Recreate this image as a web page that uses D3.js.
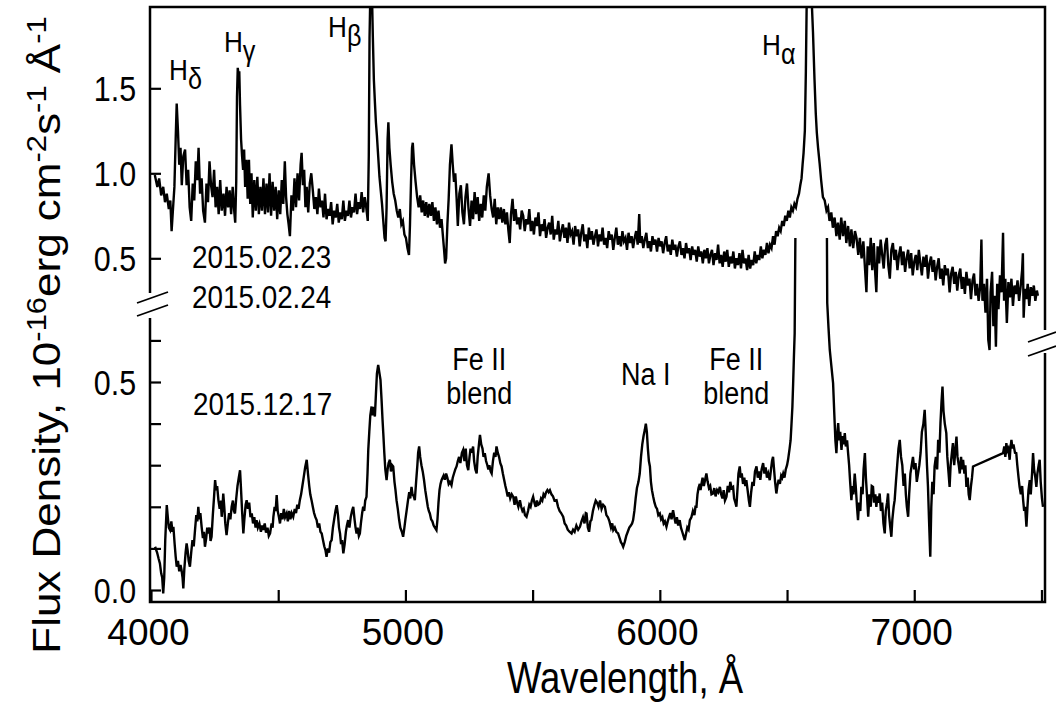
<!DOCTYPE html>
<html><head><meta charset="utf-8">
<script src="https://cdn.jsdelivr.net/npm/d3@7"></script>
<style>
body{margin:0;background:#fff}
svg text{font-family:"Liberation Sans",Arial,sans-serif;fill:#000}
</style>
</head><body>
<svg id="chart" width="1056" height="705"></svg>
<script>
// ---------------- data ----------------
const xTicks = [4000,4500,5000,5500,6000,6500,7000,7500];
const xTickLabels = ["4000","","5000","","6000","","7000",""];
const upperTicks = [0.5,1.0,1.5];
const upperTickLabels = ["0.5","1.0","1.5"];
const lowerTicks = [0,0.1,0.2,0.3,0.4,0.5,0.6];
const lowerTickLabels = ["0.0","","","","","0.5",""];

// 2015.02.23 / 2015.02.24 spectrum  [wavelength A, flux]
const spectrumFeb = [
[4015,0.99],[4025,0.92],[4032,0.97],[4040,0.87],[4048,0.92],[4055,0.83],[4062,0.88],[4070,0.79],[4076,0.84],[4081,0.66],
[4086,0.78],[4092,0.92],[4097,1.20],[4101,1.41],[4106,1.25],[4111,1.05],[4116,1.15],[4121,0.93],[4127,1.10],[4134,1.14],
[4140,0.93],[4146,1.02],[4152,0.80],[4158,0.72],[4164,0.94],[4170,0.84],[4176,1.07],[4182,0.96],[4187,1.15],[4193,0.88],
[4199,0.97],[4205,0.78],[4212,0.71],[4218,0.94],[4224,0.83],[4230,1.07],[4236,0.93],[4242,0.86],[4248,1.02],[4254,0.80],
[4260,0.92],[4266,0.76],[4272,0.96],[4278,0.78],[4285,0.88],[4291,0.75],[4297,0.92],[4303,0.80],[4309,0.90],[4315,0.76],
[4321,0.92],[4327,0.78],[4331,0.71],[4335,0.95],[4338,1.45],[4341,1.62],[4344,1.58],[4347,1.60],[4350,1.40],[4354,1.20],
[4358,1.10],[4362,1.02],[4366,1.14],[4370,0.92],[4375,1.08],[4380,0.85],[4385,1.08],[4390,0.82],[4395,1.00],[4400,0.74],
[4406,0.96],[4412,0.78],[4418,0.98],[4424,0.76],[4430,0.92],[4436,0.78],[4442,0.97],[4448,0.76],[4454,0.94],[4460,0.77],
[4466,1.00],[4472,0.75],[4478,0.95],[4484,0.78],[4490,0.92],[4496,0.73],[4502,0.90],[4508,0.76],[4514,0.96],[4520,0.82],
[4526,1.07],[4531,0.86],[4536,0.76],[4541,0.70],[4546,0.63],[4552,0.87],[4558,0.78],[4564,0.97],[4570,0.80],[4576,1.00],
[4582,0.84],[4588,1.05],[4592,1.12],[4597,0.93],[4602,1.02],[4607,0.80],[4612,0.92],[4618,0.77],[4624,0.94],[4630,1.00],
[4636,0.90],[4642,0.79],[4648,0.86],[4654,0.76],[4660,0.91],[4666,0.80],[4672,0.84],[4678,0.74],[4684,0.88],[4690,0.73],
[4696,0.79],[4702,0.75],[4708,0.83],[4714,0.70],[4720,0.78],[4726,0.74],[4732,0.82],[4738,0.71],[4744,0.77],[4750,0.73],
[4756,0.84],[4762,0.72],[4768,0.78],[4774,0.75],[4780,0.84],[4786,0.74],[4792,0.80],[4798,0.77],[4804,0.88],[4810,0.76],
[4816,0.83],[4822,0.79],[4828,0.89],[4834,0.77],[4840,0.86],[4846,0.80],[4852,0.72],[4856,1.10],[4859,1.80],[4862,2.05],
[4866,2.10],[4869,2.02],[4872,1.80],[4876,1.55],[4880,1.42],[4884,1.30],[4888,1.22],[4893,1.10],[4898,0.98],[4903,0.90],
[4908,0.82],[4913,0.72],[4918,0.62],[4922,0.60],[4926,0.80],[4930,1.20],[4933,1.30],[4937,1.15],[4942,1.05],[4948,0.95],
[4954,0.88],[4960,0.84],[4966,0.78],[4972,0.74],[4978,0.79],[4984,0.70],[4990,0.72],[4996,0.64],[5002,0.62],[5008,0.56],
[5014,0.52],[5018,0.70],[5022,0.95],[5026,1.15],[5029,1.18],[5034,1.05],[5040,0.95],[5046,0.86],[5052,0.80],[5058,0.87],
[5064,0.77],[5070,0.84],[5076,0.75],[5082,0.83],[5088,0.74],[5094,0.82],[5100,0.75],[5106,0.83],[5112,0.72],[5118,0.80],
[5124,0.70],[5130,0.78],[5136,0.68],[5142,0.73],[5148,0.62],[5152,0.55],[5156,0.47],[5160,0.50],[5165,0.70],[5170,0.85],
[5175,1.05],[5181,1.17],[5186,1.05],[5191,0.95],[5196,1.00],[5201,0.86],[5206,0.69],[5212,0.88],[5218,0.93],[5224,0.77],
[5230,0.70],[5236,0.86],[5242,0.94],[5248,0.79],[5254,0.69],[5260,0.84],[5266,0.73],[5272,0.89],[5278,0.76],[5284,0.86],
[5290,0.72],[5296,0.82],[5302,0.74],[5308,0.87],[5314,0.78],[5320,0.92],[5327,1.00],[5333,0.87],[5339,0.79],[5345,0.74],
[5351,0.85],[5357,0.70],[5363,0.80],[5369,0.73],[5375,0.80],[5381,0.71],[5387,0.79],[5393,0.70],[5399,0.77],[5405,0.66],
[5410,0.59],[5415,0.76],[5421,0.85],[5427,0.72],[5433,0.79],[5439,0.70],[5445,0.74],[5451,0.67],[5457,0.78],[5463,0.75],
[5469,0.66],[5475,0.73],[5481,0.70],[5487,0.79],[5493,0.66],[5499,0.72],[5505,0.64],[5511,0.74],[5517,0.69],[5523,0.77],
[5529,0.63],[5535,0.70],[5541,0.66],[5547,0.73],[5553,0.62],[5559,0.68],[5565,0.71],[5571,0.64],[5577,0.75],[5583,0.61],
[5589,0.67],[5595,0.64],[5601,0.72],[5607,0.60],[5613,0.66],[5619,0.70],[5625,0.62],[5631,0.68],[5637,0.59],[5643,0.71],
[5649,0.64],[5655,0.66],[5661,0.58],[5667,0.69],[5673,0.63],[5679,0.67],[5685,0.57],[5691,0.65],[5697,0.70],[5703,0.60],
[5709,0.64],[5715,0.56],[5721,0.68],[5727,0.61],[5733,0.66],[5739,0.58],[5745,0.63],[5751,0.67],[5757,0.57],[5763,0.64],
[5769,0.60],[5775,0.68],[5781,0.58],[5787,0.62],[5793,0.56],[5799,0.66],[5805,0.61],[5811,0.64],[5817,0.55],[5823,0.62],
[5829,0.68],[5835,0.58],[5841,0.63],[5847,0.57],[5853,0.66],[5859,0.60],[5865,0.62],[5871,0.55],[5877,0.65],[5883,0.59],
[5889,0.63],[5895,0.56],[5901,0.62],[5907,0.66],[5913,0.58],[5919,0.76],[5923,0.59],[5929,0.63],[5935,0.56],[5941,0.61],
[5947,0.65],[5953,0.56],[5959,0.60],[5965,0.54],[5971,0.63],[5977,0.58],[5983,0.61],[5989,0.54],[5995,0.62],[6001,0.57],
[6007,0.60],[6013,0.53],[6019,0.59],[6025,0.63],[6031,0.54],[6037,0.58],[6043,0.52],[6049,0.61],[6055,0.55],[6061,0.58],
[6067,0.51],[6073,0.57],[6079,0.60],[6085,0.52],[6091,0.56],[6097,0.50],[6103,0.59],[6109,0.53],[6115,0.56],[6121,0.49],
[6127,0.57],[6133,0.52],[6139,0.55],[6145,0.48],[6151,0.57],[6157,0.51],[6163,0.54],[6169,0.47],[6175,0.55],[6181,0.50],
[6187,0.56],[6193,0.47],[6199,0.52],[6205,0.55],[6211,0.46],[6217,0.53],[6223,0.49],[6229,0.58],[6235,0.47],[6241,0.52],
[6247,0.45],[6253,0.54],[6259,0.48],[6265,0.55],[6271,0.45],[6277,0.51],[6283,0.47],[6289,0.54],[6295,0.44],[6301,0.50],
[6307,0.46],[6313,0.53],[6319,0.44],[6325,0.55],[6331,0.47],[6337,0.50],[6343,0.43],[6349,0.52],[6355,0.44],[6361,0.49],
[6367,0.46],[6373,0.54],[6379,0.47],[6385,0.52],[6391,0.49],[6397,0.57],[6403,0.50],[6409,0.55],[6415,0.52],[6421,0.59],
[6427,0.53],[6433,0.58],[6439,0.56],[6445,0.63],[6451,0.58],[6457,0.66],[6463,0.63],[6469,0.68],[6475,0.66],[6481,0.72],
[6487,0.69],[6493,0.75],[6499,0.72],[6505,0.78],[6511,0.74],[6517,0.80],[6523,0.78],[6529,0.82],[6535,0.80],[6541,0.85],
[6547,0.88],[6552,0.93],[6557,0.97],[6561,1.05],[6565,1.12],[6570,1.25],[6574,1.60],[6578,2.10],[6590,2.20],[6596,2.05],
[6602,1.83],[6608,1.55],[6613,1.35],[6617,1.24],[6622,1.15],[6628,1.06],[6634,0.96],[6641,0.86],[6648,0.84],[6655,0.78],
[6661,0.80],[6667,0.72],[6674,0.77],[6680,0.68],[6687,0.74],[6694,0.63],[6700,0.71],[6707,0.61],[6713,0.74],[6720,0.63],
[6727,0.72],[6733,0.59],[6740,0.69],[6747,0.57],[6753,0.67],[6760,0.56],[6767,0.66],[6773,0.62],[6780,0.52],[6786,0.62],
[6793,0.50],[6800,0.60],[6806,0.45],[6812,0.30],[6817,0.57],[6823,0.46],[6829,0.62],[6835,0.43],[6841,0.59],[6847,0.40],
[6851,0.30],[6856,0.57],[6862,0.47],[6868,0.61],[6874,0.52],[6880,0.44],[6886,0.58],[6892,0.62],[6898,0.46],[6904,0.38],
[6910,0.55],[6916,0.59],[6922,0.49],[6928,0.55],[6934,0.43],[6940,0.52],[6946,0.57],[6952,0.46],[6958,0.54],[6964,0.42],
[6970,0.50],[6976,0.55],[6982,0.44],[6988,0.53],[6994,0.40],[7000,0.48],[7006,0.52],[7012,0.43],[7018,0.55],[7024,0.47],
[7030,0.40],[7036,0.51],[7042,0.45],[7048,0.52],[7054,0.38],[7060,0.47],[7066,0.51],[7072,0.42],[7078,0.49],[7084,0.37],
[7090,0.45],[7096,0.50],[7102,0.38],[7108,0.44],[7114,0.34],[7120,0.46],[7126,0.40],[7132,0.44],[7139,0.30],[7145,0.41],
[7151,0.45],[7157,0.35],[7163,0.42],[7169,0.31],[7175,0.40],[7181,0.44],[7187,0.32],[7193,0.39],[7199,0.29],[7205,0.42],
[7211,0.34],[7217,0.38],[7223,0.26],[7229,0.37],[7235,0.41],[7241,0.28],[7247,0.35],[7253,0.25],[7259,0.33],[7264,0.61],
[7268,0.25],[7274,0.35],[7280,0.18],[7286,0.38],[7291,0.02],[7296,-0.04],[7300,0.30],[7306,0.42],[7311,0.10],[7316,0.28],
[7321,-0.02],[7326,0.35],[7331,0.20],[7337,0.40],[7343,0.30],[7349,0.65],[7353,0.25],[7358,0.38],[7364,0.12],[7370,0.36],
[7376,0.27],[7382,0.38],[7388,0.22],[7394,0.34],[7400,0.29],[7406,0.37],[7412,0.25],[7418,0.33],[7424,0.43],[7427,0.53],
[7430,0.15],[7435,0.32],[7440,0.26],[7446,0.35],[7452,0.22],[7458,0.33],[7464,0.28],[7470,0.34],[7476,0.25],[7482,0.31],
[7486,0.28]
];

// 2015.12.17 spectrum  [wavelength A, flux]
const spectrumDec = [
[4016,0.104],[4024,0.090],[4030,0.075],[4035,0.064],[4040,0.040],[4044,0.030],[4048,-0.008],[4052,0.030],[4056,0.120],[4062,0.204],
[4066,0.175],[4070,0.150],[4075,0.144],[4080,0.165],[4084,0.140],[4088,0.152],[4093,0.110],[4097,0.080],[4101,0.056],[4106,0.070],
[4111,0.045],[4116,0.060],[4120,0.048],[4124,0.030],[4127,0.004],[4131,0.050],[4136,0.090],[4140,0.112],[4144,0.095],[4148,0.070],
[4153,0.056],[4158,0.090],[4163,0.120],[4168,0.105],[4173,0.144],[4178,0.180],[4182,0.165],[4186,0.200],[4190,0.170],[4194,0.185],
[4199,0.152],[4204,0.125],[4208,0.140],[4212,0.104],[4217,0.125],[4221,0.150],[4225,0.136],[4230,0.150],[4234,0.118],[4238,0.128],
[4243,0.180],[4248,0.225],[4252,0.264],[4256,0.240],[4260,0.250],[4265,0.216],[4270,0.195],[4274,0.215],[4278,0.176],[4281,0.200],
[4284,0.232],[4288,0.200],[4292,0.160],[4297,0.132],[4302,0.160],[4307,0.185],[4312,0.170],[4317,0.200],[4322,0.215],[4326,0.190],
[4330,0.184],[4335,0.220],[4340,0.250],[4345,0.270],[4350,0.288],[4354,0.240],[4358,0.190],[4363,0.136],[4367,0.170],[4372,0.205],
[4376,0.216],[4381,0.195],[4386,0.210],[4391,0.175],[4396,0.184],[4401,0.160],[4406,0.175],[4411,0.150],[4415,0.168],[4420,0.150],
[4426,0.160],[4432,0.140],[4437,0.155],[4441,0.144],[4447,0.160],[4452,0.138],[4458,0.150],[4463,0.130],[4468,0.136],[4474,0.160],
[4478,0.150],[4481,0.176],[4486,0.200],[4490,0.190],[4494,0.228],[4498,0.190],[4503,0.175],[4507,0.160],[4512,0.185],[4517,0.170],
[4522,0.195],[4527,0.175],[4533,0.184],[4538,0.165],[4543,0.190],[4548,0.170],[4553,0.185],[4559,0.176],[4565,0.195],[4570,0.185],
[4575,0.205],[4580,0.195],[4585,0.216],[4590,0.230],[4595,0.250],[4600,0.270],[4606,0.295],[4612,0.313],[4617,0.280],[4622,0.250],
[4626,0.230],[4631,0.216],[4636,0.200],[4641,0.185],[4646,0.175],[4651,0.168],[4656,0.150],[4661,0.160],[4666,0.140],[4671,0.136],
[4676,0.120],[4681,0.105],[4686,0.095],[4690,0.080],[4695,0.100],[4700,0.090],[4705,0.115],[4710,0.120],[4715,0.150],[4720,0.170],
[4725,0.190],[4730,0.204],[4735,0.180],[4739,0.150],[4743,0.136],[4747,0.110],[4751,0.120],[4756,0.088],[4761,0.110],[4766,0.140],
[4770,0.155],[4775,0.168],[4780,0.150],[4785,0.175],[4790,0.190],[4795,0.200],[4800,0.170],[4804,0.150],[4808,0.136],[4812,0.150],
[4817,0.130],[4821,0.136],[4825,0.160],[4830,0.185],[4834,0.200],[4838,0.190],[4842,0.215],[4847,0.224],[4851,0.280],[4854,0.337],
[4858,0.380],[4862,0.420],[4867,0.441],[4871,0.420],[4875,0.440],[4880,0.417],[4884,0.470],[4888,0.520],[4893,0.541],[4897,0.525],
[4902,0.505],[4906,0.460],[4910,0.410],[4913,0.377],[4917,0.330],[4921,0.290],[4926,0.264],[4930,0.290],[4934,0.305],[4939,0.313],
[4943,0.285],[4948,0.300],[4952,0.297],[4957,0.260],[4961,0.240],[4965,0.216],[4970,0.195],[4975,0.170],[4980,0.150],[4986,0.140],
[4991,0.128],[4996,0.150],[5000,0.170],[5005,0.192],[5010,0.215],[5015,0.235],[5019,0.220],[5024,0.248],[5028,0.230],[5033,0.225],
[5037,0.216],[5042,0.260],[5047,0.300],[5050,0.330],[5054,0.345],[5058,0.320],[5063,0.300],[5068,0.285],[5073,0.265],[5078,0.240],
[5083,0.220],[5088,0.200],[5092,0.190],[5096,0.184],[5101,0.170],[5106,0.165],[5111,0.155],[5116,0.150],[5122,0.144],[5126,0.170],
[5130,0.210],[5134,0.240],[5138,0.255],[5142,0.264],[5146,0.270],[5150,0.275],[5155,0.265],[5160,0.280],[5165,0.270],[5170,0.255],
[5175,0.260],[5181,0.252],[5186,0.270],[5191,0.280],[5196,0.290],[5201,0.297],[5206,0.310],[5211,0.320],[5216,0.305],[5222,0.330],
[5227,0.337],[5232,0.310],[5237,0.340],[5242,0.300],[5247,0.288],[5252,0.320],[5256,0.340],[5261,0.330],[5266,0.345],[5270,0.310],
[5275,0.290],[5280,0.280],[5284,0.320],[5289,0.350],[5293,0.373],[5298,0.350],[5303,0.340],[5307,0.320],[5312,0.329],[5317,0.310],
[5322,0.300],[5326,0.290],[5330,0.300],[5335,0.285],[5339,0.280],[5344,0.310],[5349,0.330],[5354,0.320],[5358,0.345],[5363,0.330],
[5368,0.320],[5373,0.305],[5378,0.297],[5383,0.280],[5388,0.265],[5393,0.250],[5397,0.240],[5402,0.225],[5407,0.235],[5412,0.220],
[5418,0.230],[5424,0.224],[5429,0.205],[5434,0.225],[5439,0.210],[5444,0.200],[5450,0.216],[5455,0.200],[5460,0.190],[5465,0.195],
[5470,0.180],[5476,0.176],[5482,0.190],[5487,0.205],[5492,0.200],[5497,0.215],[5502,0.224],[5507,0.210],[5512,0.200],[5517,0.215],
[5522,0.205],[5528,0.208],[5533,0.220],[5538,0.215],[5543,0.230],[5548,0.225],[5553,0.235],[5558,0.240],[5563,0.235],[5568,0.240],
[5574,0.230],[5580,0.225],[5586,0.215],[5594,0.216],[5600,0.200],[5606,0.190],[5612,0.185],[5620,0.176],[5626,0.160],[5632,0.155],
[5638,0.145],[5645,0.140],[5653,0.136],[5659,0.145],[5665,0.140],[5672,0.155],[5679,0.145],[5686,0.152],[5692,0.165],[5698,0.175],
[5704,0.160],[5709,0.185],[5712,0.184],[5717,0.150],[5722,0.140],[5727,0.165],[5731,0.168],[5737,0.190],[5743,0.205],[5748,0.215],
[5753,0.210],[5759,0.200],[5765,0.215],[5771,0.195],[5777,0.205],[5784,0.200],[5790,0.180],[5796,0.175],[5802,0.165],[5808,0.150],
[5813,0.160],[5817,0.144],[5823,0.150],[5829,0.140],[5836,0.136],[5842,0.125],[5847,0.115],[5852,0.110],[5856,0.104],[5862,0.115],
[5868,0.130],[5874,0.140],[5880,0.150],[5886,0.155],[5891,0.160],[5895,0.168],[5900,0.190],[5905,0.220],[5910,0.245],[5916,0.260],
[5921,0.280],[5926,0.320],[5931,0.350],[5936,0.370],[5941,0.385],[5945,0.400],[5949,0.380],[5953,0.340],[5957,0.310],[5961,0.297],
[5965,0.260],[5969,0.240],[5974,0.224],[5979,0.210],[5984,0.200],[5989,0.195],[5994,0.180],[6000,0.184],[6005,0.170],[6010,0.175],
[6015,0.160],[6020,0.165],[6026,0.152],[6031,0.165],[6036,0.175],[6041,0.185],[6046,0.170],[6052,0.192],[6057,0.175],[6062,0.160],
[6067,0.175],[6072,0.155],[6078,0.168],[6083,0.150],[6088,0.140],[6093,0.130],[6098,0.120],[6103,0.135],[6108,0.150],[6113,0.145],
[6118,0.168],[6124,0.175],[6130,0.190],[6136,0.180],[6140,0.200],[6144,0.200],[6148,0.230],[6152,0.245],[6157,0.255],[6160,0.240],
[6164,0.256],[6168,0.270],[6173,0.250],[6178,0.265],[6183,0.280],[6188,0.260],[6193,0.245],[6198,0.250],[6203,0.230],[6209,0.232],
[6214,0.245],[6219,0.225],[6225,0.240],[6230,0.235],[6236,0.248],[6241,0.230],[6246,0.220],[6251,0.240],[6256,0.215],[6262,0.224],
[6267,0.250],[6272,0.235],[6277,0.260],[6282,0.245],[6288,0.248],[6292,0.220],[6297,0.210],[6301,0.200],[6305,0.240],[6309,0.280],
[6314,0.297],[6318,0.270],[6322,0.280],[6327,0.255],[6332,0.270],[6336,0.250],[6340,0.264],[6345,0.240],[6350,0.215],[6354,0.200],
[6359,0.235],[6364,0.260],[6369,0.250],[6374,0.285],[6380,0.297],[6385,0.270],[6390,0.285],[6395,0.265],[6400,0.290],[6406,0.305],
[6411,0.280],[6416,0.295],[6421,0.270],[6426,0.280],[6432,0.264],[6437,0.290],[6441,0.310],[6445,0.320],[6449,0.290],[6453,0.260],
[6458,0.232],[6462,0.250],[6467,0.265],[6472,0.255],[6477,0.275],[6481,0.270],[6485,0.280],[6490,0.270],[6495,0.290],[6500,0.300],
[6504,0.313],[6510,0.340],[6514,0.360],[6517,0.393],[6521,0.440],[6524,0.497],[6527,0.560],[6530,0.617],[6534,0.950],[6560,1.400],
[6600,1.700],[6640,1.400],[6656,0.950],[6658,0.690],[6663,0.630],[6668,0.577],[6674,0.540],[6681,0.497],[6686,0.420],[6690,0.360],
[6694,0.329],[6698,0.380],[6701,0.401],[6705,0.360],[6709,0.380],[6714,0.337],[6718,0.370],[6722,0.350],[6727,0.377],[6731,0.345],
[6736,0.360],[6740,0.329],[6744,0.300],[6748,0.260],[6753,0.216],[6757,0.250],[6761,0.230],[6766,0.280],[6770,0.250],[6775,0.200],
[6779,0.168],[6783,0.210],[6788,0.190],[6792,0.248],[6797,0.230],[6801,0.290],[6806,0.329],[6810,0.270],[6815,0.220],[6819,0.176],
[6824,0.230],[6829,0.200],[6833,0.250],[6838,0.248],[6842,0.210],[6847,0.230],[6851,0.200],[6855,0.225],[6860,0.210],[6864,0.232],
[6869,0.190],[6874,0.210],[6879,0.160],[6884,0.136],[6888,0.190],[6893,0.210],[6897,0.232],[6901,0.180],[6906,0.150],[6910,0.128],
[6914,0.170],[6919,0.200],[6923,0.216],[6928,0.260],[6933,0.300],[6938,0.340],[6943,0.361],[6948,0.320],[6953,0.300],[6958,0.250],
[6963,0.280],[6967,0.230],[6971,0.200],[6976,0.176],[6980,0.230],[6985,0.280],[6990,0.300],[6995,0.320],[7000,0.290],[7005,0.305],
[7010,0.260],[7015,0.280],[7020,0.300],[7025,0.330],[7030,0.380],[7036,0.400],[7041,0.433],[7045,0.380],[7050,0.300],[7054,0.248],
[7058,0.170],[7063,0.080],[7067,0.200],[7071,0.260],[7076,0.230],[7080,0.297],[7085,0.320],[7090,0.290],[7094,0.361],[7099,0.330],
[7103,0.400],[7107,0.450],[7111,0.489],[7115,0.430],[7120,0.400],[7126,0.377],[7130,0.320],[7135,0.280],[7139,0.248],[7143,0.300],
[7148,0.330],[7152,0.353],[7157,0.300],[7162,0.340],[7166,0.369],[7170,0.320],[7175,0.300],[7179,0.280],[7184,0.320],[7188,0.290],
[7192,0.313],[7197,0.280],[7201,0.300],[7205,0.248],[7210,0.270],[7214,0.230],[7218,0.216],[7223,0.250],[7227,0.270],[7231,0.297],
[7349,0.329],[7354,0.345],[7358,0.320],[7362,0.353],[7366,0.335],[7370,0.340],[7375,0.313],[7378,0.340],[7382,0.361],[7386,0.340],
[7390,0.350],[7396,0.330],[7401,0.329],[7405,0.300],[7410,0.270],[7414,0.248],[7419,0.230],[7424,0.250],[7428,0.216],[7432,0.190],
[7436,0.200],[7441,0.152],[7445,0.200],[7449,0.240],[7454,0.264],[7458,0.230],[7463,0.280],[7467,0.329],[7471,0.290],[7476,0.270],
[7480,0.248],[7484,0.280],[7489,0.300],[7493,0.313],[7497,0.260],[7502,0.220],[7506,0.200]
];

const lineLabels = [
  {base:"H", greek:"δ", lambda:4071, y:80},
  {base:"H", greek:"γ", lambda:4287, y:52},
  {base:"H", greek:"β", lambda:4696, y:37},
  {base:"H", greek:"α", lambda:6402, y:55}
];
const dateLabels = ["2015.02.23","2015.02.24","2015.12.17"];
const featureLabels = [
  {lines:["Fe II","blend"], lambda:5290},
  {lines:["Na I"], lambda:5945},
  {lines:["Fe II","blend"], lambda:6300}
];

// ---------------- layout ----------------
const L = 150, R = 1045, T = 7, B = 602;
const SX = 0.87; // horizontal squeeze of the original lettering

const svg = d3.select("#chart");
svg.append("rect").attr("width",1056).attr("height",705).attr("fill","#fff");

const x = d3.scaleLinear().domain([4000, 7510]).range([151, 1044]);
const yU = d3.scaleLinear().domain([0.5, 1.5]).range([258.3, 88.3]);
const yL = d3.scaleLinear().domain([0, 0.5]).range([590, 382]);

const defs = svg.append("defs");
defs.append("clipPath").attr("id","clipU").append("rect")
  .attr("x",L).attr("y",T).attr("width",R-L).attr("height",B-T);
defs.append("clipPath").attr("id","clipL").append("rect")
  .attr("x",L).attr("y",238).attr("width",R-L).attr("height",B-238);

function txt(g, px, py, str, size, anchor, sx){
  return g.append("text")
    .attr("transform",`translate(${px},${py}) scale(${sx||SX},1)`)
    .attr("text-anchor",anchor||"start")
    .attr("font-size",size)
    .text(str);
}

// spectra
const lineU = d3.line().x(d=>x(d[0])).y(d=>yU(d[1]));
const lineL = d3.line().x(d=>x(d[0])).y(d=>yL(d[1]));
svg.append("path").datum(spectrumFeb).attr("d",lineU)
  .attr("fill","none").attr("stroke","#000").attr("stroke-width",2.4)
  .attr("clip-path","url(#clipU)");
svg.append("path").datum(spectrumDec).attr("d",lineL)
  .attr("fill","none").attr("stroke","#000").attr("stroke-width",2.4)
  .attr("clip-path","url(#clipL)");

// frame with axis breaks
const frame = svg.append("g").attr("stroke","#000").attr("stroke-width",2.5).attr("fill","none");
frame.append("path").attr("d",`M${L},293 L${L},${T} L${R},${T} L${R},330`);
frame.append("path").attr("d",`M${L},318 L${L},${B} L${R},${B} L${R},353`);
const brk = svg.append("g").attr("stroke","#000").attr("stroke-width",1.8);
brk.append("line").attr("x1",137).attr("y1",303).attr("x2",168).attr("y2",292);
brk.append("line").attr("x1",137).attr("y1",316).attr("x2",168).attr("y2",305);
brk.append("line").attr("x1",1028).attr("y1",342).attr("x2",1056).attr("y2",332);
brk.append("line").attr("x1",1028).attr("y1",356).attr("x2",1056).attr("y2",346);

// axes
function styleAxis(g, size){
  g.select(".domain").remove();
  g.selectAll(".tick line").attr("stroke","#000").attr("stroke-width",2.2);
  g.selectAll(".tick text").attr("font-size",size).attr("fill","#000")
    .attr("font-family","'Liberation Sans',Arial,sans-serif");
}
const axU = svg.append("g").attr("transform",`translate(${L},0)`)
  .call(d3.axisLeft(yU).tickValues(upperTicks).tickSize(-11).tickPadding(16)
    .tickFormat((d,i)=>upperTickLabels[i]));
styleAxis(axU, 35);
axU.selectAll(".tick text").attr("transform",`scale(${SX},1)`).attr("dy","0.36em");

const axL = svg.append("g").attr("transform",`translate(${L},0)`)
  .call(d3.axisLeft(yL).tickValues(lowerTicks).tickSize(-11).tickPadding(16)
    .tickFormat((d,i)=>lowerTickLabels[i]));
styleAxis(axL, 35);
axL.selectAll(".tick text").attr("transform",`scale(${SX},1)`).attr("dy","0.36em");

const axX = svg.append("g").attr("transform",`translate(0,${B})`)
  .call(d3.axisBottom(x).tickValues(xTicks).tickSize(-12).tickPadding(17)
    .tickFormat((d,i)=>xTickLabels[i]));
styleAxis(axX, 37);
axX.selectAll(".tick text").attr("dx",-3);

// axis titles
txt(svg, 625, 693, "Wavelength, Å", 44, "middle", 0.83);
const yt = svg.append("text")
  .attr("transform",`translate(60,335) rotate(-90) scale(1,${SX})`)
  .attr("text-anchor","middle").attr("font-size",44);
yt.append("tspan").text("Flux Density, 10");
yt.append("tspan").attr("dy",-16).attr("font-size",31).text("-16");
yt.append("tspan").attr("dy",16).text("erg cm");
yt.append("tspan").attr("dy",-16).attr("font-size",31).text("-2");
yt.append("tspan").attr("dy",16).text("s");
yt.append("tspan").attr("dy",-16).attr("font-size",31).text("-1");
yt.append("tspan").attr("dy",16).text(" Å");
yt.append("tspan").attr("dy",-16).attr("font-size",31).text("-1");

// line labels
lineLabels.forEach(d=>{
  const t = svg.append("text")
    .attr("transform",`translate(${x(d.lambda)},${d.y}) scale(${SX},1)`)
    .attr("font-size",30);
  t.append("tspan").text(d.base);
  t.append("tspan").attr("dy",9).attr("font-size",29).text(d.greek);
});

// date labels
txt(svg, 192, 268, dateLabels[0], 32, "start");
txt(svg, 192, 308, dateLabels[1], 32, "start");
txt(svg, 193, 415, dateLabels[2], 32, "start");

// feature labels
featureLabels.forEach(d=>{
  const cx = x(d.lambda);
  if(d.lines.length===2){
    txt(svg, cx, 370, d.lines[0], 31, "middle");
    txt(svg, cx, 404, d.lines[1], 31, "middle");
  } else {
    txt(svg, cx, 385, d.lines[0], 31, "middle");
  }
});
</script>
</body></html>
